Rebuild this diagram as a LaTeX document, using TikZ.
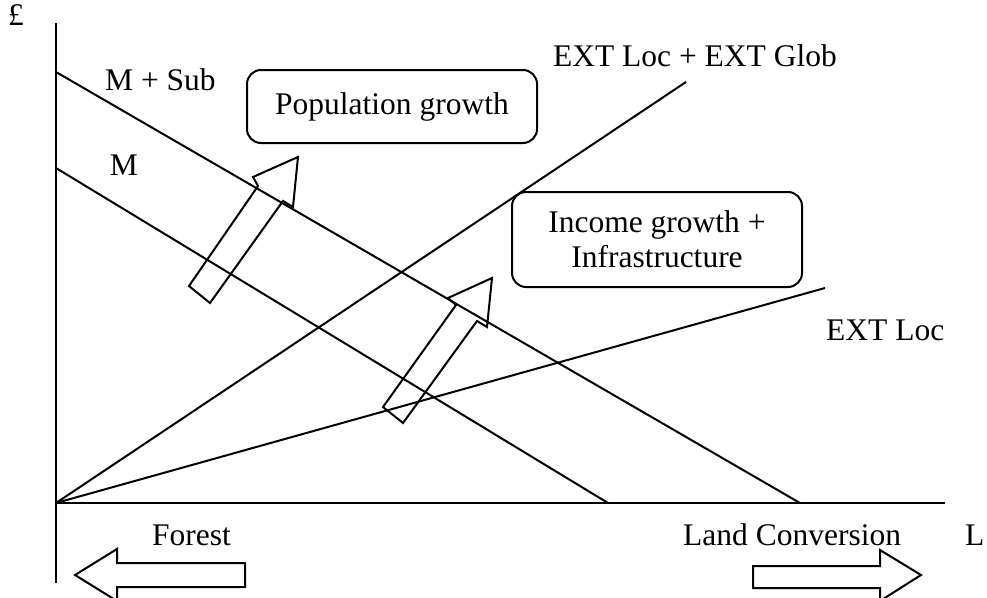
\documentclass[tikz,border=0pt]{standalone}
\usepackage{fontspec}
\setmainfont{Liberation Serif}
\begin{document}
\begin{tikzpicture}[x=1pt,y=-1pt,
  ln/.style={line width=2pt},
  lbl/.style={inner sep=0pt,font=\fontsize{31.5}{35}\selectfont},
  rbox/.style={draw,line width=2pt,rounded corners=14pt,align=center,inner sep=0pt,font=\fontsize{31.5}{35}\selectfont},
  blk/.style={draw,line width=2pt,line join=miter}]
\useasboundingbox (0,0) rectangle (987,597);
% axes
\coordinate (O) at (56,503);
\coordinate (ytop) at (56,23);
\coordinate (ybot) at (56,583);
\coordinate (xend) at (945,503);
\draw[ln] (ytop) -- (ybot);
\draw[ln] (O) -- (xend);
% demand-type lines
\coordinate (ms0) at (56,72);
\coordinate (ms1) at (800,503);
\coordinate (m0) at (56,168);
\coordinate (m1) at (608,503);
\coordinate (eg1) at (686,82);
\coordinate (el1) at (825,288);
\draw[ln] (ms0) -- (ms1);
\draw[ln] (m0) -- (m1);
\draw[ln] (O) -- (eg1);
\draw[ln] (O) -- (el1);
% labels
\node[lbl,anchor=base west] (pound) at (8,25) {£};
\node[lbl,anchor=base west] (lms) at (105,90) {M + Sub};
\node[lbl,anchor=base] (lm) at (124,175) {M};
\node[lbl,anchor=base east] (leg) at (837,66) {EXT Loc + EXT Glob};
\node[lbl,anchor=base west] (lel) at (826,340) {EXT Loc};
\node[lbl,anchor=base west] (lf) at (152,545) {Forest};
\node[lbl,anchor=base west] (llc) at (683,545) {Land Conversion};
\node[lbl,anchor=base west] (lL) at (965,545) {L};
% boxes
\node[rbox,minimum width=290pt,minimum height=73pt] (pop) at (392,106.5) {Population growth};
\node[rbox,minimum width=290pt,minimum height=95pt] (inc) at (657,239.5) {Income growth +\\Infrastructure};
% block arrows (diagonal)
\draw[blk] (189,286) -- (258,186) -- (253,177) -- (298,157) -- (293,207) -- (283,201) -- (210,303) -- cycle;
\draw[blk] (383,407) -- (456,305) -- (448,298) -- (492,278) -- (487,327) -- (477,321) -- (403,423) -- cycle;
% block arrows (horizontal)
\draw[blk] (75,575) -- (117,549) -- (117,563) -- (245,563) -- (245,587) -- (117,587) -- (117,601) -- cycle;
\draw[blk] (921,575) -- (880,550) -- (880,566) -- (753,566) -- (753,588) -- (880,588) -- (880,601) -- cycle;
\end{tikzpicture}
\end{document}
